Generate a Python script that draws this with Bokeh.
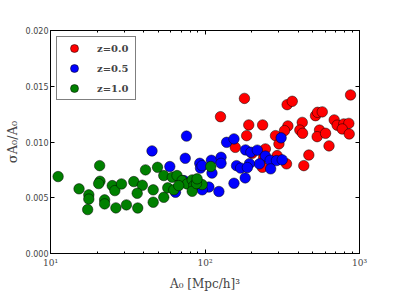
from bokeh.plotting import figure
from bokeh.models import (ColumnDataSource, LogAxis, LinearAxis, FixedTicker,
                          Legend, LegendItem, Range1d)
from bokeh.embed import file_html
from bokeh.resources import INLINE

# ---- data ----
red_x = [126, 180, 192, 236, 186, 157, 286, 301, 340, 367, 344, 327, 426, 411, 428,
         519, 535, 574, 551, 532, 603, 635, 686, 717, 791, 853, 773, 858, 875, 470,
         436, 337, 293, 246, 240, 202, 235]
red_y = [0.01227, 0.01391, 0.01153, 0.01153, 0.01057, 0.00952, 0.01057, 0.00983, 0.01335,
         0.01365, 0.01144, 0.01102, 0.01176, 0.01107, 0.01078, 0.01236, 0.01266, 0.0127,
         0.01107, 0.01048, 0.01078, 0.00965, 0.01198, 0.01151, 0.01162, 0.01167, 0.01117,
         0.01072, 0.01422, 0.00883, 0.00788, 0.00804, 0.00878, 0.00938, 0.00863, 0.00899,
         0.00773]

blue_x = [75.9, 45.4, 74.5, 59.2, 92.5, 93.5, 110, 127, 127, 138, 154, 183, 198, 218, 246,
          264, 290, 316, 225, 194, 160, 170, 188, 266, 182, 154, 111, 95.7, 311, 123, 106,
          96, 64.4, 73]
blue_y = [0.01053, 0.0092, 0.00854, 0.0078, 0.00809, 0.00766, 0.00836, 0.00863, 0.00809,
          0.00997, 0.01028, 0.00929, 0.00908, 0.00927, 0.00874, 0.00836, 0.00833, 0.0084,
          0.00804, 0.00806, 0.00788, 0.00766, 0.00771, 0.00759, 0.00678, 0.0063, 0.00721,
          0.00788, 0.01037, 0.00556, 0.00596, 0.00571, 0.00549, 0.00654]

green_x = [11.2, 20.8, 15.3, 17.7, 17.7, 17.4, 20.9, 20.5, 22.4, 22.4, 25.1, 26.1, 28.8,
           26.5, 31.0, 34.6, 39.3, 36.4, 36.7, 41.2, 46.2, 46.2, 49.3, 54.1, 57.4, 54.1,
           61.4, 65.9, 62.8, 71.1, 76.7, 82.6, 84.7, 95.9, 109, 82.6, 67.6, 88.1, 88.9]
green_y = [0.0069, 0.00788, 0.0058, 0.00526, 0.00488, 0.00394, 0.00648, 0.00627, 0.00481,
           0.00445, 0.00609, 0.00564, 0.00624, 0.00409, 0.00436, 0.00645, 0.00612, 0.0054,
           0.00408, 0.0075, 0.00571, 0.0046, 0.00773, 0.00504, 0.00589, 0.00699, 0.00684,
           0.00699, 0.00571, 0.00654, 0.00624, 0.0066, 0.00609, 0.00618, 0.0078, 0.00558,
           0.00609, 0.00627, 0.0067]

series_labels = ["z=0.0", "z=0.5", "z=1.0"]
series_colors = ["#ff0000", "#0000ff", "#008000"]

x_ticks = [10, 100, 1000]
x_tick_labels = ["10\u00b9", "10\u00b2", "10\u00b3"]
x_minor = [m * d for d in (10, 100) for m in range(2, 10)]
y_ticks = [0.0, 0.005, 0.010, 0.015, 0.020]
y_tick_labels = ["0.000", "0.005", "0.010", "0.015", "0.020"]

x_label = "A\u2080 [Mpc/h]\u00b3"
y_label = "\u03c3A\u2080/A\u2080"

SERIF = "DejaVu Serif"
SANS = "DejaVu Sans"

p = figure(width=391, height=293, x_axis_type="log",
           x_range=Range1d(10, 1000), y_range=Range1d(0, 0.02),
           output_backend="svg", toolbar_location=None,
           min_border_left=50, min_border_top=30, min_border_right=32,
           min_border_bottom=40)
p.grid.visible = False
p.outline_line_color = "black"
p.outline_line_width = 1
p.background_fill_color = "white"
p.border_fill_color = "white"

renderers = []
for xs, ys, col in [(red_x, red_y, series_colors[0]),
                    (blue_x, blue_y, series_colors[1]),
                    (green_x, green_y, series_colors[2])]:
    src = ColumnDataSource(dict(x=xs, y=ys))
    r = p.scatter("x", "y", source=src, size=10.5, fill_color=col,
                  line_color="black", line_width=0.5)
    renderers.append(r)

xax = p.xaxis[0]
xax.ticker = FixedTicker(ticks=x_ticks, minor_ticks=x_minor)
xax.major_label_overrides = {t: l for t, l in zip(x_ticks, x_tick_labels)}
xax.axis_label = x_label

yax = p.yaxis[0]
yax.ticker = FixedTicker(ticks=y_ticks, minor_ticks=[])
yax.major_label_overrides = {t: l for t, l in zip(y_ticks, y_tick_labels)}
yax.axis_label = y_label

top = LogAxis(ticker=FixedTicker(ticks=x_ticks, minor_ticks=x_minor))
right = LinearAxis(ticker=FixedTicker(ticks=y_ticks, minor_ticks=[]))
p.add_layout(top, "above")
p.add_layout(right, "right")

for ax in [xax, yax, top, right]:
    ax.axis_line_color = "black"
    ax.major_tick_in = 4
    ax.major_tick_out = 0
    ax.minor_tick_in = 2
    ax.minor_tick_out = 0
    ax.major_tick_line_color = "black"
    ax.minor_tick_line_color = "black"

for ax in [top, right]:
    ax.major_label_text_font_size = "1px"
    ax.major_label_text_alpha = 0
    ax.major_label_standoff = 0

xax.major_label_text_font = SERIF
xax.major_label_text_font_size = "9px"
xax.major_label_standoff = 4
xax.axis_label_text_font = SERIF
xax.axis_label_text_font_size = "12px"
xax.axis_label_text_font_style = "normal"
xax.axis_label_standoff = 6

yax.major_label_text_font = SANS
yax.major_label_text_font_size = "8px"
yax.major_label_standoff = 2
yax.axis_label_text_font = SERIF
yax.axis_label_text_font_size = "13px"
yax.axis_label_text_font_style = "normal"
yax.axis_label_standoff = 3

legend = Legend(items=[LegendItem(label=l, renderers=[r])
                       for l, r in zip(series_labels, renderers)],
                location="top_left")
legend.margin = 6
legend.padding = 1
legend.glyph_width = 32
legend.glyph_height = 20
legend.label_height = 20
legend.label_width = 37
legend.spacing = 0
legend.label_standoff = 7
legend.label_text_font = SERIF
legend.label_text_font_style = "bold"
legend.label_text_font_size = "10px"
legend.border_line_color = "black"
legend.border_line_width = 1
legend.background_fill_alpha = 1
p.add_layout(legend)

open("out.html", "w").write(file_html(p, INLINE))
